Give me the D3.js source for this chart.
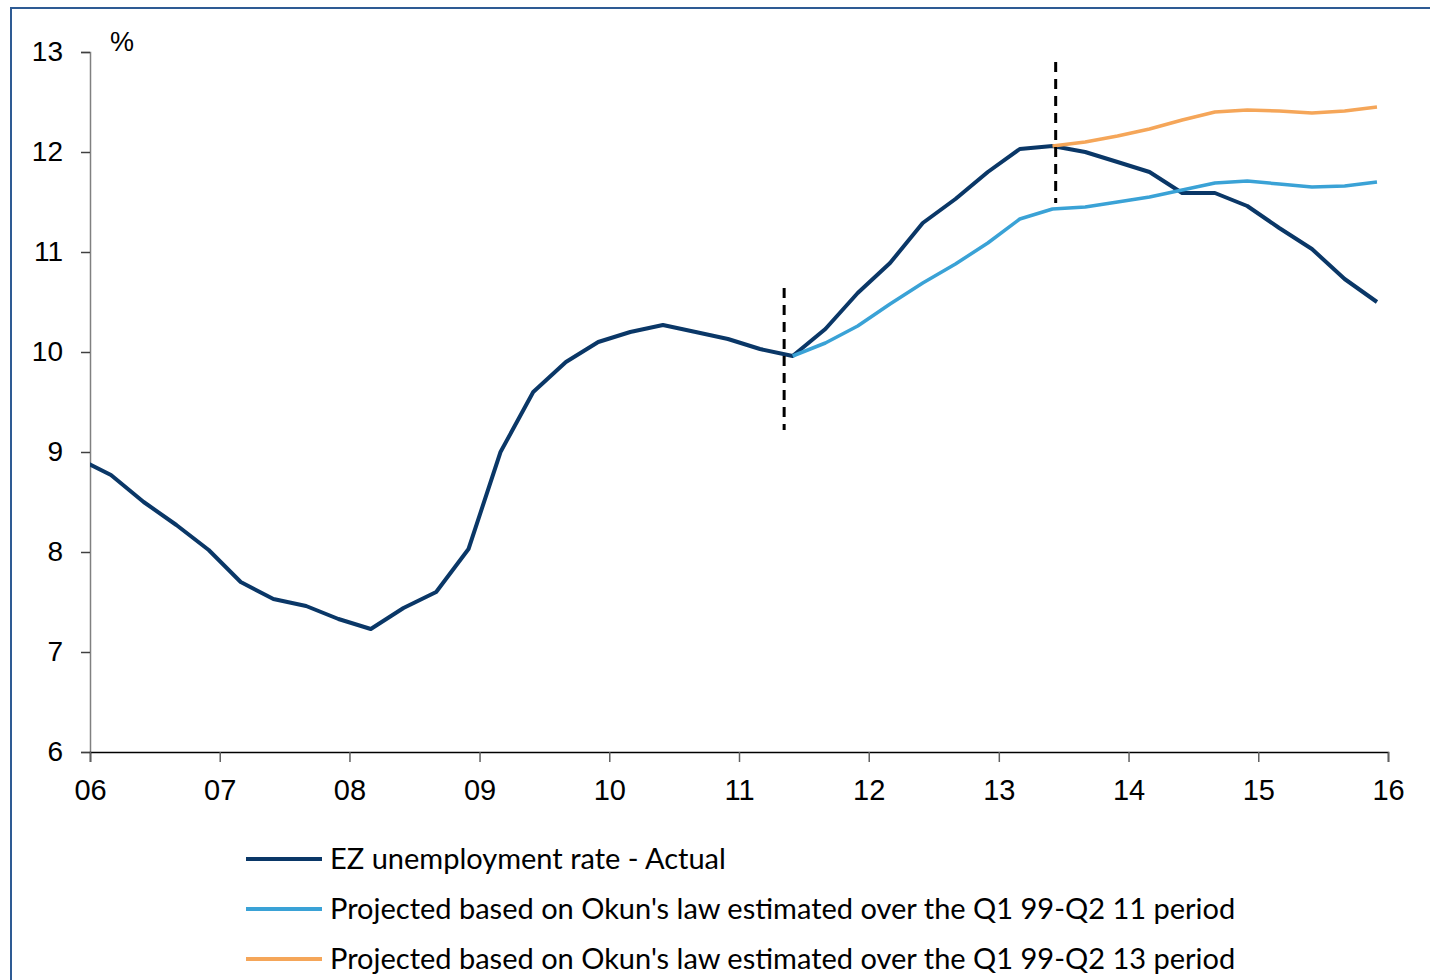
<!DOCTYPE html>
<html>
<head>
<meta charset="utf-8">
<script src="https://cdn.jsdelivr.net/npm/d3@7"></script>
<style>
  body { margin: 0; background: #fff; }
  svg { font-family: Lato, "Open Sans", sans-serif; }
</style>
</head>
<body>
<svg id="chart" width="1430" height="980"></svg>
<script>
// quarterly points, first one is Dec 05 (clipped at the axis)
const quarters = d3.range(41).map(i => new Date(2005, 11 + 3 * i, 1))

const actual = [8.93, 8.77, 8.50, 8.27, 8.02, 7.70, 7.53, 7.46, 7.33, 7.23, 7.44,
  7.60, 8.03, 9.00, 9.60, 9.90, 10.10, 10.20, 10.27, 10.20, 10.13,
  10.03, 9.96, 10.23, 10.59, 10.89, 11.29, 11.53, 11.80, 12.03, 12.06,
  12.00, 11.90, 11.80, 11.59, 11.59, 11.46, 11.24, 11.03, 10.73, 10.50]

// projections start at index 22 and 30 of quarters
const okun11 = [9.96, 10.09, 10.26, 10.48, 10.69, 10.88, 11.09, 11.33, 11.43, 11.45,
  11.50, 11.55, 11.62, 11.69, 11.71, 11.68, 11.65, 11.66, 11.70]
const okun13 = [12.06, 12.10, 12.16, 12.23, 12.32, 12.40, 12.42, 12.41, 12.39, 12.41, 12.45]

const cutDates = [new Date(2011, 4, 8), new Date(2013, 5, 10)]
const cutRanges = [[9.22, 10.64], [11.49, 12.9]]

const yearTicks = d3.range(2006, 2017).map(y => new Date(y, 0, 1))
const yTicks = [6, 7, 8, 9, 10, 11, 12, 13]

const seriesNames = ['EZ unemployment rate - Actual',
  "Projected based on Okun's law estimated over the Q1 99-Q2 11 period",
  "Projected based on Okun's law estimated over the Q1 99-Q2 13 period"]
const seriesColors = ['#0a3767', '#3aa2d6', '#f5a659']

const svg = d3.select('#chart')

// outer frame
svg.append('rect')
  .attr('x', 11).attr('y', 8)
  .attr('width', 1440).attr('height', 1000)
  .attr('fill', 'none')
  .attr('stroke', '#2e5b94')
  .attr('stroke-width', 2)

const x = d3.scaleTime()
  .domain([yearTicks[0], yearTicks[yearTicks.length - 1]])
  .range([90, 1388])

const y = d3.scaleLinear()
  .domain([6, 13])
  .range([752, 52])

svg.append('clipPath').attr('id', 'plot')
  .append('rect')
  .attr('x', 90).attr('y', 0)
  .attr('width', 1300).attr('height', 760)

// y axis
const yAxis = svg.append('g')
  .attr('transform', 'translate(90,0)')
  .call(d3.axisLeft(y).tickValues(yTicks).tickSize(9).tickPadding(18).tickFormat(d3.format('d')))
yAxis.select('.domain').attr('stroke', '#808080').attr('stroke-width', 1.5)
yAxis.selectAll('.tick line').attr('stroke', '#404040').attr('stroke-width', 1.5)
yAxis.selectAll('.tick text')
  .attr('font-size', 28)
  .attr('fill', '#000')
  .attr('font-family', '"Liberation Sans", Arial, sans-serif')

// x axis
const xAxis = svg.append('g')
  .attr('transform', 'translate(0,752)')
  .call(d3.axisBottom(x).tickValues(yearTicks).tickSizeOuter(0).tickSize(10).tickPadding(17)
    .tickFormat(d3.timeFormat('%y')))
xAxis.select('.domain').attr('stroke', '#000').attr('stroke-width', 1.5)
xAxis.selectAll('.tick line').attr('stroke', '#606060').attr('stroke-width', 1.5)
xAxis.selectAll('.tick text').attr('font-size', 29).attr('fill', '#000')

svg.append('text')
  .attr('x', 110).attr('y', 51)
  .attr('font-size', 27)
  .attr('font-family', '"Liberation Sans", Arial, sans-serif')
  .text('%')

const line = d3.line()
  .x(d => x(d.date))
  .y(d => y(d.value))

const series = [
  actual.map((v, i) => ({ date: quarters[i], value: v })),
  okun11.map((v, i) => ({ date: quarters[i + 22], value: v })),
  okun13.map((v, i) => ({ date: quarters[i + 30], value: v }))
]

const lines = svg.append('g').attr('clip-path', 'url(#plot)')

lines.selectAll('path')
  .data([series[0], series[1], series[2]])
  .enter()
  .append('path')
  .attr('d', line)
  .attr('fill', 'none')
  .attr('stroke', (d, i) => seriesColors[i])
  .attr('stroke-width', (d, i) => i === 0 ? 4 : 3.5)
  .attr('stroke-linejoin', 'round')

// dashed markers
svg.selectAll('.cut')
  .data(cutDates)
  .enter()
  .append('line')
  .attr('class', 'cut')
  .attr('x1', d => x(d)).attr('x2', d => x(d))
  .attr('y1', (d, i) => y(cutRanges[i][1]))
  .attr('y2', (d, i) => y(cutRanges[i][0]))
  .attr('stroke', '#000')
  .attr('stroke-width', 3)
  .attr('stroke-dasharray', '10,7')

// legend
const legend = svg.append('g')
legend.selectAll('line')
  .data(seriesNames)
  .enter()
  .append('line')
  .attr('x1', 246).attr('x2', 322)
  .attr('y1', (d, i) => 859 + i * 50)
  .attr('y2', (d, i) => 859 + i * 50)
  .attr('stroke', (d, i) => seriesColors[i])
  .attr('stroke-width', 4)

legend.selectAll('text')
  .data(seriesNames)
  .enter()
  .append('text')
  .attr('x', 330)
  .attr('y', (d, i) => 869 + i * 50)
  .attr('font-size', 29)
  .attr('fill', '#000')
  .text(d => d)
</script>
</body>
</html>
